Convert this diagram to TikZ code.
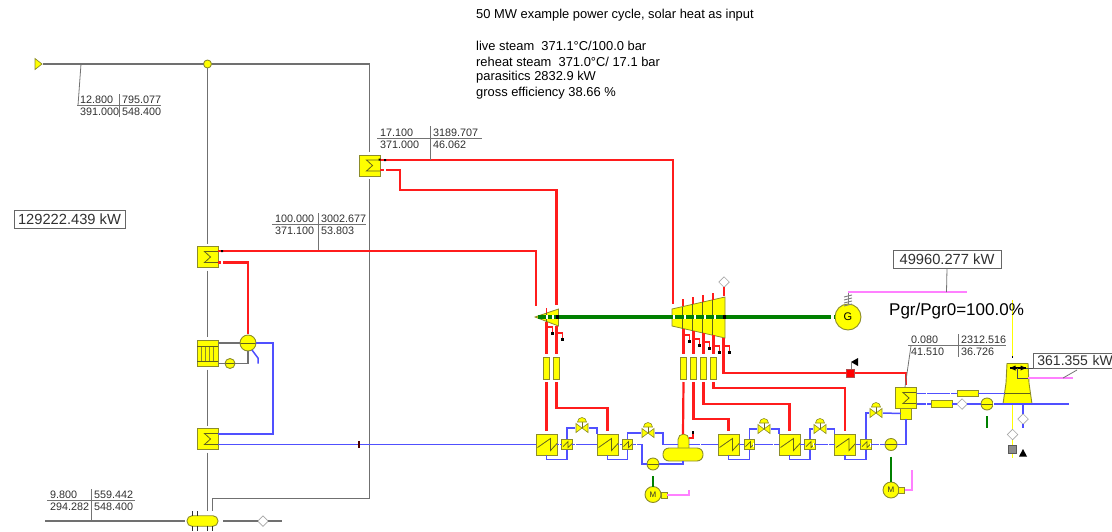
\documentclass[tikz,border=0pt]{standalone}
\usepackage{fontspec}
\setmainfont{Liberation Sans}
\usetikzlibrary{calc,shapes.geometric}
\definecolor{yl}{HTML}{FFFF00}
\definecolor{edge}{HTML}{8C8C2A}
\definecolor{steamc}{HTML}{FF1C1C}
\definecolor{waterc}{HTML}{5050FF}
\definecolor{gasc}{HTML}{707070}
\definecolor{shaftc}{HTML}{008000}
\definecolor{pinkc}{HTML}{FF80FF}
\definecolor{inkc}{HTML}{303030}
\tikzset{
  comp/.style={draw=edge,fill=yl,line width=.9pt,inner sep=0pt,outer sep=0pt},
  hxsig/.style={comp,minimum size=21pt,path picture={
    \draw[edge!70!black,line width=.8pt,shift={(path picture bounding box.center)}]
      (10.5,-5.5) -- (-3,-5.5) -- (3,0) -- (-3,5.5) -- (10.5,5.5);}},
  hxzig/.style={comp,minimum size=21pt,path picture={
    \draw[edge!70!black,line width=.8pt,shift={(path picture bounding box.center)}]
      (-9,3) -- (4,-6) -- (4,6) -- (10.5,-1);}},
  hxsmall/.style={comp,minimum size=10.5pt,path picture={
    \draw[edge!70!black,line width=.7pt,shift={(path picture bounding box.center)}]
      (-4,2) -- (1,-3) -- (1,3) -- (5,-1);}},
  fwh/.style={comp,minimum width=6.5pt,minimum height=22pt},
  longbox/.style={comp,minimum width=21pt,minimum height=6.5pt},
  pumpn/.style={comp,circle,minimum size=12pt,path picture={
    \draw[edge!70!black,line width=.7pt] (path picture bounding box.west) -- (path picture bounding box.east);}},
  motorn/.style={comp,circle,minimum size=16pt,text=inkc,font=\fontsize{8}{8}\selectfont},
  motorbox/.style={comp,minimum size=6pt},
  diam/.style={draw=gray!70,fill=white,line width=.7pt,shape=diamond,aspect=1,inner sep=0pt,outer sep=0pt,minimum size=10.5pt},
  steam/.style={draw=steamc,line width=2.2pt,line join=miter},
  water/.style={draw=waterc,line width=1.5pt},
  gas/.style={draw=gasc,line width=1.9pt},
  shaft/.style={draw=shaftc,line width=3.4pt},
  pinkl/.style={draw=pinkc,line width=1.1pt},
  lead/.style={draw=gray!90!black,line width=.8pt},
  yline/.style={draw=yl,line width=1.8pt},
  cell/.style={text=inkc,anchor=west,inner sep=0pt,font=\fontsize{10.8}{11}\selectfont},
  tline/.style={text=black,anchor=west,inner sep=0pt,font=\fontsize{12.9}{13}\selectfont},
  valbox/.style={draw=gray!80!black,line width=.8pt,fill=white,text=inkc,inner sep=0pt,minimum height=18pt,font=\fontsize{14.7}{15}\selectfont},
  valven/.style={inner sep=0pt,minimum width=14pt,minimum height=9pt,outer sep=0pt},
}
\newcommand{\ctable}[9]{% xl, xv, xr, yh, ytop, ybot, name + text
  \draw[lead] (#1,#4) -- (#3,#4);
  \draw[lead] (#2,#5) -- (#2,#6);
  \node[cell] (#7a) at (#1+3,#4-6) {#8};
  \node[cell] (#7c) at (#1+3,#4+6) {#9};
}
\newcommand{\valvesym}[2]{%
  \node[valven] (#1) at #2 {};
  \draw[edge,fill=yl,line width=.6pt] (#1.center) -- ++(-6,-4.5) -- ++(0,9) -- cycle;
  \draw[edge,fill=yl,line width=.6pt] (#1.center) -- ++(6,-4.5) -- ++(0,9) -- cycle;
  \draw[edge!80!black,line width=.6pt] (#1.center) -- ++(0,-6);
  \draw[edge,fill=yl,line width=.6pt] ($(#1.center)+(-4.5,-6)$) arc[start angle=180,end angle=0,radius=4.5pt] -- cycle;
}
\begin{document}
\begin{tikzpicture}[x=1pt,y=-1pt,line cap=butt]
\useasboundingbox (0,0) rectangle (1112,531);
\begin{scope}
\clip (0,0) rectangle (1112,531);

% ---------- components
\node[hxsig] (rh) at (369.5,165.5) {};
\node[hxsig] (sh) at (207.5,257) {};
\node[hxsig] (eco) at (207.5,439) {};
% evaporator
\node[comp,minimum width=21pt,minimum height=26.5pt] (evap) at (207.5,353.3) {};
\foreach \vx in {201.5,205.5,209.5,213.5} \draw[edge,line width=.8pt] (\vx,346) -- (\vx,361);
\draw[edge!70!black,line width=.8pt] (197,346) -- (218,346) (197,361) -- (218,361);
\node[comp,circle,minimum size=16pt,path picture={\draw[edge!70!black,line width=.7pt] (path picture bounding box.west) -- (path picture bounding box.east);}] (drum) at (248,343) {};
\node[pumpn,minimum size=10pt] (cpump) at (230,363.5) {};
\node[comp,circle,minimum size=8pt] (split) at (207.5,64) {};
\node[comp,rounded corners=5pt,minimum width=31pt,minimum height=10.5pt] (header) at (202.5,521) {};
\node[diam] (d0) at (263,521) {};
\draw[edge,fill=yl,line width=.7pt] (35,58.5) -- (42,64) -- (35,69.5) -- cycle;
\coordinate (src) at (43,64);
\coordinate (hdrend) at (282,521);
\coordinate (hdrl) at (45,521);

% feedwater heaters
\node[hxzig] (h1) at (546.5,444.5) {};
\node[hxsmall] (s1) at (567,444.5) {};
\node[hxzig] (h2) at (607.5,444.5) {};
\node[hxsmall] (s2) at (627.5,444.5) {};
\node[hxzig] (h3) at (728.5,444.5) {};
\node[hxsmall] (s3) at (749.5,444.5) {};
\node[hxzig] (h4) at (789.5,444.5) {};
\node[hxsmall] (s4) at (810,444.5) {};
\node[hxzig] (h5) at (845,444.5) {};
\node[hxsmall] (s5) at (866,444.5) {};
\node[hxsig] (cond) at (906,398) {};
\node[comp,minimum width=10.5pt,minimum height=11pt] (well) at (906,413.5) {};
\valvesym{v1}{(582,428)}
\valvesym{v2}{(648,433)}
\valvesym{v3}{(764,429)}
\valvesym{v4}{(820,429)}
\valvesym{v5}{(876,413)}
% deaerator
\draw[edge,fill=yl,line width=.8pt] (678,449) -- (678,439.5) arc[start angle=180,end angle=0,radius=5.5pt] -- (689,449) -- cycle;
\node[comp,rounded corners=6pt,minimum width=40pt,minimum height=13pt] (dea) at (683,454.5) {};
\coordinate (domeTop) at (683,434);
\coordinate (domeR) at (689,444.5);
\coordinate (domeL) at (678,444.5);
\node[pumpn] (p1) at (653,464) {};
\node[motorn] (m1) at (653,494.5) {M};
\node[motorbox] (mb1) at (664,495) {};
\node[pumpn] (p2) at (891,444.5) {};
\node[motorn] (m2) at (891,490) {M};
\node[motorbox] (mb2) at (901.5,490) {};
\node[pumpn] (p3) at (987,404) {};
% turbine extraction heaters
\foreach \nm/\xx in {e1/546.5,e2/556.5,e3/683.5,e4/693.5,e5/703.5,e6/713.5}
  \node[fwh] (\nm) at (\xx,368) {};
\node[longbox] (cool1) at (967.5,393.5) {};
\node[longbox] (cool2) at (941.5,404) {};
\node[diam] (d2) at (962,404) {};
\node[diam] (d3) at (1012.5,434.5) {};
\node[diam] (d4) at (1023,419) {};
\node[diam] (d5) at (724,282) {};
% cooling tower
\draw[yline] (1012.5,300) -- (1012.5,358);
\draw[yline] (1012.5,405) -- (d3.north);
\draw[yline] (d3.south) -- (1012.5,458);
\node[comp,draw=gray!70!black,fill=gray!90,minimum size=8pt] (gbox) at (1012.5,449) {};
\fill[black] (1019,456.5) -- (1023,449) -- (1027,456.5) -- cycle;
\fill[black] (1011.6,356) rectangle (1013.4,358);
\draw[edge,fill=yl,line width=.9pt] (1007,363.5) -- (1028,363.5) -- (1029,383) -- (1032,404) -- (1003,404) -- (1006,383) -- cycle;
\draw[edge!70!black,line width=.8pt] (1005,393) -- (1030,393);
\coordinate (twin) at (1005,393.5);
\coordinate (twout) at (1003,404);
\coordinate (twfan) at (1017,368);
\draw[black,line width=1.1pt] (1010,368) -- (1026,368);
\fill[black] (1010,368) -- (1015.5,365.5) -- (1015.5,370.5) -- cycle;
\fill[black] (1026,368) -- (1020.5,365.5) -- (1020.5,370.5) -- cycle;
\node[comp,circle,minimum size=26pt,text=black,font=\fontsize{11}{11}\selectfont] (gen) at (848,317) {G};
% red valve
\node[comp,draw=gray!60!red,fill=red,minimum size=8pt] (rv) at (850.5,373) {};
\fill[black] (851,362) -- (858,358) -- (858,366) -- cycle;
\draw[gray,line width=.6pt] (851,369) -- (851,362);

% ---------- turbines
\coordinate (hpin) at (536,309);
\coordinate (lpin) at (673,307);
\draw[edge,fill=yl,line width=.8pt] (535,317) -- (558.5,309) -- (558.5,326) -- cycle;
\draw[edge!70!black,line width=.7pt] (546.5,313) -- (546.5,321.5);
\draw[edge,fill=yl,line width=.8pt] (672,309) -- (725,297) -- (725,338) -- (672,326) -- cycle;
\foreach \vx/\vt/\vb in {682.5/306.5/328.5,692.5/304.3/330.7,702.5/302/333,712.5/299.8/335.2}
  \draw[edge!70!black,line width=.7pt] (\vx,\vt) -- (\vx,\vb);
% shaft
\draw[shaft] (538,317) -- (672,317);
\draw[shaft] (672,317) -- (725,317);
\draw[shaft] (725,317) -- (gen.west);
\foreach \gx in {547,553,674,685,695,705,715} \draw[white,line width=1.8pt] (\gx,315.2) -- (\gx,318.8);
\draw[white,line width=3pt] (832.5,315) -- (832.5,319);
\fill[black] (556,315) rectangle (559,319);
\fill[black] (723,315) rectangle (726,319);

% ---------- gas side
\draw[gas] (src) -- (split.west);
\draw[gas] (split.east) -- (369.5,64) -- ([yshift=3pt]rh.north);
\draw[gas] ([yshift=-3pt]rh.south) -- (369.5,498.5) -- (212.5,498.5) -- (212.5,511);
\draw[gas] (split.south) -- ([yshift=3pt]sh.north);
\draw[gas] ([yshift=-3pt]sh.south) -- ([yshift=3pt]evap.north);
\draw[gas] ([yshift=-3pt]evap.south) -- ([yshift=3pt]eco.north);
\draw[gas] ([yshift=-3pt]eco.south) -- (207.5,511);
\draw[gas,line width=1.4pt] (hdrl) -- ([xshift=-2pt]header.west);
\draw[gas,line width=1.4pt] ([xshift=5pt]header.east) -- (d0.west);
\draw[gas,line width=1.4pt] (d0.east) -- (hdrend);
\draw[inkc,line width=1pt] (192,511) -- (192,515.5) (197.5,511) -- (197.5,515.5)
   (192,526) -- (192,531) (197.5,526) -- (197.5,531) (207.5,526) -- (207.5,531) (212.5,526) -- (212.5,531);
\draw[gas,line width=1.1pt] (evap.east |- drum.west) -- (drum.west);
\draw[gas,line width=1.1pt] (evap.east |- cpump.west) -- (cpump.west);
\draw[gas,line width=1.1pt] (cpump.east) -- (248,363.5) -- (drum.south);

% ---------- steam
\draw[steam] ([yshift=6pt]sh.east) -- (536,251) -- ([yshift=3pt]hpin);
\draw[steam] ([yshift=-5.5pt,xshift=5pt]sh.east) -- (248,262.5) -- ([yshift=1pt]drum.north);
\draw[steam] ([yshift=5.5pt]rh.east) -- (673,160) -- ([yshift=3pt]lpin);
\draw[steam] ([yshift=-4.5pt,xshift=6pt]rh.east) -- (400,170) -- (400,190) -- (556.5,190) -- (556.5,305);
\draw[steam] ([yshift=-5.5pt]sh.east) -- ([yshift=-5.5pt,xshift=3pt]sh.east);
\draw[steam] ([yshift=-4.5pt]rh.east) -- ([yshift=-4.5pt,xshift=3.5pt]rh.east);
\fill[black] (221,250) rectangle (223,252) (378.5,158.5) rectangle (380.5,160.5) (384,159) rectangle (386,161);
% extraction lines
\draw[steam] (546.5,321.5) -- ([yshift=3pt]e1.north);
\draw[steam] (556.5,326) -- ([yshift=3pt]e2.north);
\draw[steam] (683.5,328.5) -- ([yshift=3pt]e3.north);
\draw[steam] (693.5,331) -- ([yshift=3pt]e4.north);
\draw[steam] (703.5,333) -- ([yshift=3pt]e5.north);
\draw[steam] (713.5,335) -- ([yshift=3pt]e6.north);
\draw[steam] ([yshift=-3pt]e1.south) -- ([yshift=3pt]h1.north);
\draw[steam] ([yshift=-3pt]e2.south) -- (556.5,408) -- (607.5,408) -- ([yshift=3pt]h2.north);
\draw[steam] ([yshift=-3pt]e3.south) -- (domeTop);
\draw[steam] ([yshift=-3pt]e4.south) -- (693.5,419) -- (728.5,419) -- ([yshift=3pt]h3.north);
\draw[steam] ([yshift=-3pt]e5.south) -- (703.5,404) -- (789.5,404) -- ([yshift=3pt]h4.north);
\draw[steam] ([yshift=-3pt]e6.south) -- (713.5,388) -- (845,388) -- ([yshift=3pt]h5.north);
\draw[steam] (723.5,338) -- (723.5,373) -- (rv.west);
\draw[steam] (rv.east) -- (906,373) -- ([yshift=3pt]cond.north);
% upper stubs
\draw[steam,line width=1.6pt] (546.5,308) -- (546.5,313);
\foreach \sx/\st/\sb in {683/299/306,693/297/304,703/295/302,713/293/300}
  \draw[steam,line width=1.6pt] (\sx,\st) -- (\sx,\sb);
\draw[steam] (724,296) -- (d5.south);
% hooks
\foreach \hx/\hy in {546.5/327,556.5/333,683.5/335,693.5/339,703.5/342,713.5/346,723.5/346}{
  \draw[steam,line width=1.4pt] (\hx,\hy) -- (\hx+6,\hy) -- (\hx+6,\hy+5);
  \fill[black] (\hx+4.8,\hy+5) rectangle (\hx+7.2,\hy+7.5);
}
\draw[steam,line width=1.4pt] (domeR |- 0,438) -- (693,438) -- (693,433.5);
\fill[black] (692,431) rectangle (694,433.5);

% ---------- water
\draw[water] ([yshift=-5.5pt]eco.east) -- (h1.west);
\fill[black!70!red] (357.5,441) rectangle (359.5,448);
\draw[water] ([yshift=5pt]eco.east) -- (273,434) -- (273,343) -- (drum.east);
\draw[water] (252,350) -- (258,358) -- (258,363.5);
\draw[water] (h1.east) -- (s1.west);
\draw[water] (s1.east) -- (h2.west);
\draw[water] (h1.south) -- (546.5,459.5) -- (567,459.5) -- (s1.south);
\draw[water] (s1.north) -- (567,428) -- (v1.west);
\draw[water] (v1.east) -- (597,428) -- (597,434);
\draw[water] (h2.east) -- (s2.west);
\draw[water] (h2.south) -- (607.5,459.5) -- (627.5,459.5) -- (s2.south);
\draw[water] (s2.north) -- (627.5,433) -- (v2.west);
\draw[water] (v2.east) -- (663,433) -- (663,444.5) -- (domeL);
\draw[water] (s2.east) -- (642,444.5) -- (642,464) -- (p1.west);
\draw[water] (p1.east) -- (683,464) -- (dea.south);
\draw[water] (domeR) -- (h3.west);
\draw[water] (h3.east) -- (s3.west);
\draw[water] (s3.east) -- (h4.west);
\draw[water] (h3.south) -- (728.5,459.5) -- (749.5,459.5) -- (s3.south);
\draw[water] (s3.north) -- (749.5,429) -- (v3.west);
\draw[water] (v3.east) -- (779,429) -- (779,434);
\draw[water] (h4.east) -- (s4.west);
\draw[water] (s4.east) -- (h5.west);
\draw[water] (h4.south) -- (789.5,459.5) -- (810,459.5) -- (s4.south);
\draw[water] (s4.north) -- (810,429) -- (v4.west);
\draw[water] (v4.east) -- (834.5,429) -- (834.5,434);
\draw[water] (h5.south) -- (845,459.5) -- (866,459.5) -- (s5.south);
\draw[water] (h5.east) -- (s5.west);
\draw[water] (s5.east) -- (p2.west);
\draw[water] (s5.north) -- (866,413) -- (v5.west);
\draw[water] (v5.east) -- (well.west);
\draw[water] (p2.east) -- (906,444.5) -- (well.south);
\draw[water] ([yshift=4.5pt]cond.east) -- (cool1.west);
\draw[water] (cool1.east) -- (twin);
\draw[water] ([yshift=-6pt]cond.east) -- (cool2.west);
\draw[water] (cool2.east) -- (d2.west);
\draw[water] (d2.east) -- (p3.west);
\draw[water] (p3.east) -- (twout);
\draw[water] (twout) -- (1069,404);
\draw[water] (1023,404) -- (d4.north) (d4.south) -- (1023,428);
% white gaps on water lines
\foreach \wx/\wy in {559/444.5,575/444.5,619/444.5,636/444.5,700/444.5,753/444.5,773/444.5,813/444.5,828/444.5,870/444.5,879/444.5,926/393.5,926/404,950/393.5,993/404}
  \draw[white,line width=1pt] (\wx,\wy-2) -- (\wx,\wy+2);

% ---------- shafts of pumps
\draw[shaft,line width=2.6pt] ([yshift=-6pt]p1.south) -- (m1.north);
\draw[shaft,line width=2.6pt] ([yshift=-6pt]p2.south) -- (m2.north);
\draw[shaft,line width=2.6pt] ([yshift=-6pt]p3.south) -- (987,428);

% ---------- power lines
\draw[pinkl] (mb1.east) -- (689,495) -- (689,490);
\draw[pinkl] (mb2.east) -- (912,490) -- (912,470);
\draw[gray,line width=.9pt] (gen.north) -- (848,292);
\foreach \sy in {296,299,302,305} \draw[gray,line width=.9pt] (844,\sy+1) -- (852,\sy-1);

% ---------- value boxes
\node[valbox,minimum width=111pt] (q1) at (69.5,219.5) {129222.439 kW};
\node[valbox,minimum width=108pt] (q2) at (947,259) {49960.277 kW};
\node[valbox,anchor=west,minimum width=90pt,minimum height=15pt,inner xsep=4pt,align=left,text width=82pt,font=\fontsize{14}{15}\selectfont] (q3) at (1033,360.5) {361.355 kW};
\coordinate (pinkA) at (848,292);
\coordinate (pinkB) at (967,292);
\coordinate (pinkT) at (946.5,292);
\draw[pinkl] (pinkA) -- (pinkB);
\draw[lead] (q2.south) -- (pinkT);
\coordinate (pinkC) at (1017,378);
\coordinate (pinkE) at (1028,378);
\coordinate (pinkD) at (1073,378);
\draw[lead,black!70] (twfan) -- (pinkC) -- (pinkE);
\draw[pinkl] (pinkE) -- (pinkD);
\draw[lead] (1063,378) -- (1077,370);
\draw[lead,black!70] (1026,368) -- (q3.west |- 0,368);
\node[anchor=west,inner sep=0pt,text=black,font=\fontsize{17}{17}\selectfont] (pgr) at (889,311) {Pgr/Pgr0=100.0\%};

% ---------- stream tables
\coordinate (t1) at (78,105.5);
\draw[lead] (81,64) -- (t1);
\ctable{77}{119.5}{161}{105.5}{94}{117}{ta}{12.800}{391.000}
\node[cell] (tab) at (122,99.5) {795.077};
\node[cell] (tad) at (122,111.5) {548.400};
\ctable{47}{91}{135}{500.5}{489}{520}{tb}{9.800}{294.282}
\node[cell] (tbb) at (94,494.5) {559.442};
\node[cell] (tbd) at (94,506.5) {548.400};
\ctable{377}{430}{482}{138.7}{126}{160}{tc}{17.100}{371.000}
\node[cell] (tcb) at (433,132.7) {3189.707};
\node[cell] (tcd) at (433,144.7) {46.062};
\ctable{272}{318.5}{366}{224.5}{213}{250}{td}{100.000}{371.100}
\node[cell] (tdb) at (321,218.5) {3002.677};
\node[cell] (tdd) at (321,230.5) {53.803};
\ctable{908}{958}{1006}{345.7}{334}{357}{te}{0.080}{41.510}
\node[cell] (teb) at (961,339.7) {2312.516};
\node[cell] (ted) at (961,351.7) {36.726};
\draw[lead] (905,387) -- (911,345.7);

% ---------- title text
\node[tline] (l1) at (476,15) {50 MW example power cycle, solar heat as input};
\node[tline] (l2) at (476,45.5) {live steam\ \ 371.1°C/100.0 bar};
\node[tline] (l3) at (476,61.5) {reheat steam\ \ 371.0°C/ 17.1 bar};
\node[tline] (l4) at (476,77) {parasitics 2832.9 kW};
\node[tline] (l5) at (476,93) {gross efficiency 38.66 \%};
\end{scope}
\end{tikzpicture}
\end{document}
